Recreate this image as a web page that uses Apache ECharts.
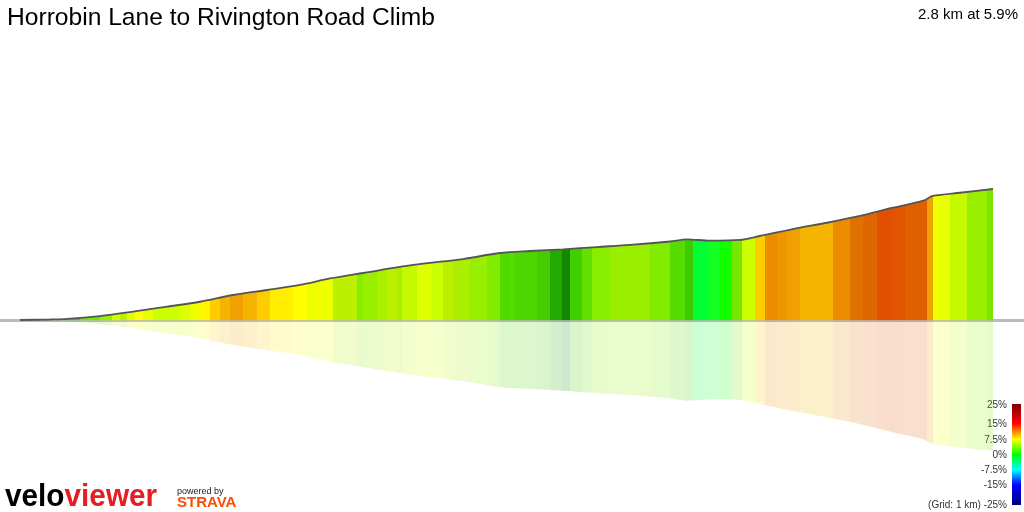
<!DOCTYPE html>
<html><head><meta charset="utf-8">
<script src="https://cdn.jsdelivr.net/npm/echarts@6/dist/echarts.min.js"></script>
<style>html,body{margin:0;padding:0;background:#fff}#c{width:1024px;height:512px}</style>
</head><body><div id="c"></div>
<script>
// ---- data ----
const titleText = 'Horrobin Lane to Rivington Road Climb';
const summaryText = '2.8 km at 5.9%';
const distKm = [0,0.086,0.135,0.230,0.325,0.423,0.518,0.613,0.711,0.806,0.892,0.987,1.131,1.275,1.381,1.468,1.563,1.660,1.755,1.871,1.919,1.986,2.072,2.129,2.224,2.322,2.417,2.512,2.599,2.627,2.705,2.800];
const elevM  = [0,0.6,1.3,5.0,10.5,16.8,23.0,31.5,37.8,44.1,52.3,59.2,69.3,76.8,84.4,86.9,89.0,91.9,94.5,98.9,101.6,99.9,100.8,105.8,114.6,122.5,131.0,141.4,150.3,156.2,160.3,165.0];
const stripeEnd = [0.173,0.230,0.265,0.288,0.308,0.331,0.354,0.383,0.423,0.460,0.489,0.518,0.547,0.576,0.604,0.642,0.682,0.719,0.786,0.826,0.901,0.970,0.987,1.027,1.056,1.085,1.099,1.142,1.186,1.217,1.246,1.295,1.344,1.381,1.410,1.424,1.488,1.525,1.560,1.583,1.617,1.646,1.698,1.813,1.871,1.914,1.937,1.977,2.014,2.049,2.078,2.115,2.144,2.178,2.207,2.245,2.340,2.388,2.426,2.466,2.512,2.547,2.610,2.627,2.647,2.676,2.725,2.783,2.800];
const stripeGrade = [1.5,3.5,4.5,6,5.5,6.5,7.5,6.8,6,6,6.5,7,7.8,8.5,9,9.5,9,8.5,8,7.5,7,5.5,4,4.5,5,5.5,5,5.8,6.5,6,5.5,5,4.5,3.8,2.8,3,2.6,1.5,1,0.5,2.2,3.2,4,4.5,3.8,3,2,-1.5,-1,-0.3,3.5,6,8.5,10.5,10,9.5,9,10.5,11.5,11.8,12.5,12.3,12,9.5,7,6.8,5.8,4.5,3.5];
const legendValues = [25,15,7.5,0,-7.5,-15,-25];
const legendLabels = ['25%','15%','7.5%','0%','-7.5%','-15%','(Grid: 1 km) -25%'];

// ---- styles ----
const gradeStops = [
  [-25,'#000080'],[-15,'#0000ff'],[-7.5,'#00ffff'],[-1.5,'#00ff33'],[-1,'#11ff22'],[-0.3,'#11ff00'],[0,'#11ff00'],
  [0.5,'#118800'],[1,'#22aa00'],[1.5,'#44cc00'],[2,'#3bcc00'],[2.5,'#4cd400'],[3,'#55dd00'],[3.5,'#77e600'],
  [4,'#88ee00'],[4.5,'#99ee00'],[5,'#aaee00'],[5.5,'#bbf000'],[6,'#ccff00'],[6.5,'#ddff00'],[7,'#eeff00'],
  [7.5,'#ffff00'],[8,'#ffee00'],[8.5,'#ffcc00'],[9,'#f4b400'],[9.5,'#f0a000'],[10.5,'#ec8c00'],[11.5,'#e07000'],
  [12,'#e06000'],[12.5,'#e05000'],[15,'#ff0000'],[25,'#800000']
];
const legendStops = {25:'#800000',15:'#ff0000',7.5:'#ffff00',0:'#00ff00','-7.5':'#00ffff','-15':'#0000ff','-25':'#000080'};
const legendPos = [0,0.19,0.35,0.5,0.65,0.8,1];

function hex(h){return [parseInt(h.slice(1,3),16),parseInt(h.slice(3,5),16),parseInt(h.slice(5,7),16)];}
function gradeColor(g){
  if(g<=gradeStops[0][0]) return gradeStops[0][1];
  for(let i=1;i<gradeStops.length;i++){
    if(g<=gradeStops[i][0]){
      const [g0,c0]=gradeStops[i-1],[g1,c1]=gradeStops[i];
      const t=(g-g0)/(g1-g0), a=hex(c0), b=hex(c1);
      return 'rgb('+a.map((v,k)=>Math.round(v+(b[k]-v)*t)).join(',')+')';
    }
  }
  return gradeStops[gradeStops.length-1][1];
}
const total = distKm[distKm.length-1];
function makeFill(){
  const st=[]; let prev=0;
  stripeEnd.forEach((e,i)=>{const c=gradeColor(stripeGrade[i]); st.push({offset:prev/total,color:c},{offset:e/total,color:c}); prev=e;});
  return new echarts.graphic.LinearGradient(0,0,1,0,st);
}
const profile = distKm.map((d,i)=>[d,elevM[i]]);
const reflection = distKm.map((d,i)=>[d,-elevM[i]]);
const maxE = Math.max(...elevM);

const barTop=404, barH=101, barX=1012, barW=9;
const graphics = [
  {type:'rect', z:0, shape:{x:0,y:319,width:1024,height:3}, style:{fill:'#bbbbbb'}},
  {type:'text', x:7, y:18, style:{text:titleText, font:'24.6px "Liberation Sans", Arial, sans-serif', fill:'#000', verticalAlign:'middle'}},
  {type:'text', x:1018, y:15, style:{text:summaryText, font:'15px "Liberation Sans", Arial, sans-serif', fill:'#000', align:'right', verticalAlign:'middle'}},
  {type:'rect', shape:{x:barX,y:barTop,width:barW,height:barH}, style:{fill:new echarts.graphic.LinearGradient(0,0,0,1, legendValues.map((v,i)=>({offset:legendPos[i],color:legendStops[v]})))}},
  {type:'text', x:5, y:497, scaleX:0.93, style:{text:'{a|velo}{b|viewer}', verticalAlign:'middle', rich:{a:{font:'bold 32px "Liberation Sans", Arial, sans-serif', fill:'#000'}, b:{font:'bold 32px "Liberation Sans", Arial, sans-serif', fill:'#e31e24'}}}},
  {type:'text', x:177, y:492, style:{text:'powered by', font:'9px "Liberation Sans", Arial, sans-serif', fill:'#222', verticalAlign:'middle'}},
  {type:'text', x:177, y:503, style:{text:'STRAVA', font:'bold 15px "Liberation Sans", Arial, sans-serif', fill:'#fc4c02', verticalAlign:'middle'}}
];
legendLabels.forEach((t,i)=>{
  graphics.push({type:'text', x:1007, y:barTop+1+legendPos[i]*(barH-1), style:{text:t, font:'10px "Liberation Sans", Arial, sans-serif', fill:'#333', align:'right', verticalAlign:'middle'}});
});

const chart = echarts.init(document.getElementById('c'), null, {renderer:'canvas'});
chart.setOption({
  animation:false,
  grid:{left:20,right:31,top:189,bottom:61},
  xAxis:{type:'value',min:0,max:total,show:false},
  yAxis:{type:'value',min:-maxE,max:maxE,show:false},
  graphic:graphics,
  series:[
    {type:'line', data:reflection, symbol:'none', clip:false, silent:true, z:2, smooth:0.3,
     lineStyle:{width:0,opacity:0}, areaStyle:{color:makeFill(), opacity:0.2}},
    {type:'line', data:profile, symbol:'none', clip:false, silent:true, z:3, smooth:0.3,
     lineStyle:{color:'#555',width:1.8}, areaStyle:{color:makeFill(), opacity:1}}
  ]
});
</script></body></html>
